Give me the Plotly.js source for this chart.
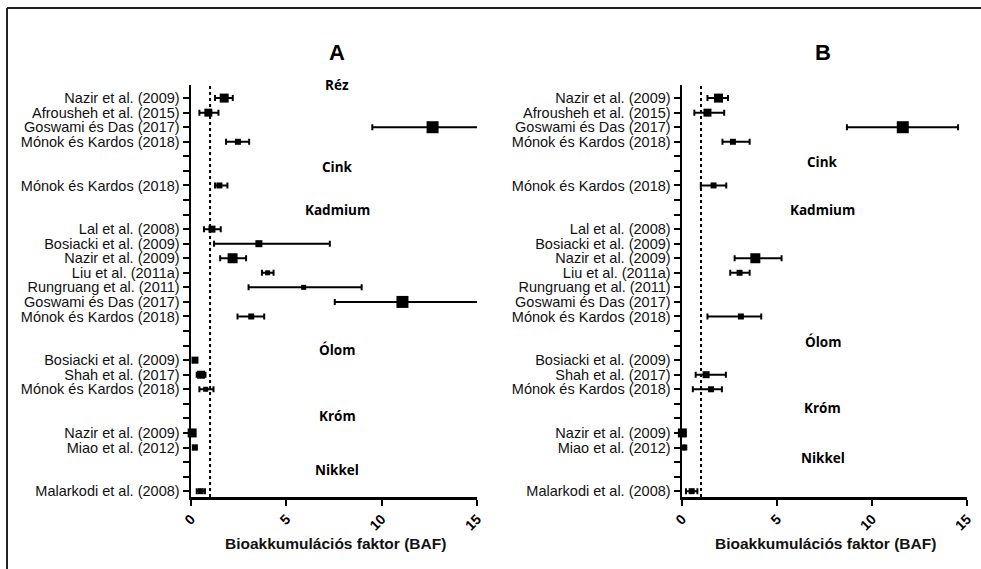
<!DOCTYPE html>
<html>
<head>
<meta charset="utf-8">
<script src="https://cdn.plot.ly/plotly-3.0.1.min.js"></script>
<style>
  html, body { margin: 0; padding: 0; background: #fff; }
  #chart { width: 981px; height: 569px; }
</style>
</head>
<body>
<div id="chart"></div>
<script>
// ---- Data ----
const studyLabels = [
  'Nazir et al. (2009)', 'Afrousheh et al. (2015)', 'Goswami és Das (2017)', 'Mónok és Kardos (2018)',
  '', '',
  'Mónok és Kardos (2018)',
  '', '',
  'Lal et al. (2008)', 'Bosiacki et al. (2009)', 'Nazir et al. (2009)', 'Liu et al. (2011a)',
  'Rungruang et al. (2011)', 'Goswami és Das (2017)', 'Mónok és Kardos (2018)',
  '', '',
  'Bosiacki et al. (2009)', 'Shah et al. (2017)', 'Mónok és Kardos (2018)',
  '', '',
  'Nazir et al. (2009)', 'Miao et al. (2012)',
  '', '',
  'Malarkodi et al. (2008)'
];
const groupNames = ['Réz', 'Cink', 'Kadmium', 'Ólom', 'Króm', 'Nikkel'];
const xTickVals = [0, 5, 10, 15];
const xTitle = 'Bioakkumulációs faktor (BAF)';

// Panel A
const bafA   = [1.74, 0.91, 12.67, 2.46, null, null, 1.49, null, null, 1.10, 3.56, 2.18, 4.02, 5.91, 11.09, 3.16, null, null, 0.21, 0.53, 0.77, null, null, 0.06, 0.20, null, null, 0.51];
const lowA   = [1.26, 0.44, 9.51, 1.84, null, null, 1.26, null, null, 0.68, 1.21, 1.53, 3.72, 3.02, 7.54, 2.44, null, null, 0.12, 0.30, 0.44, null, null, 0.02, 0.12, null, null, 0.30];
const highA  = [2.19, 1.44, 15.83, 3.05, null, null, 1.91, null, null, 1.56, 7.28, 2.89, 4.33, 8.95, 15.60, 3.84, null, null, 0.30, 0.76, 1.18, null, null, 0.10, 0.28, null, null, 0.73];
const weightA = [9, 8, 12, 6, null, null, 6, null, null, 7, 7, 10, 5, 5, 12, 6, null, null, 7, 8, 5, null, null, 9, 6, null, null, 6];

// Panel B
const bafB   = [1.92, 1.34, 11.62, 2.68, null, null, 1.66, null, null, null, null, 3.86, 3.03, null, null, 3.10, null, null, null, 1.27, 1.53, null, null, 0.02, 0.12, null, null, 0.51];
const lowB   = [1.34, 0.65, 8.68, 2.13, null, null, 0.99, null, null, null, null, 2.77, 2.54, null, null, 1.34, null, null, null, 0.72, 0.57, null, null, 0.02, 0.12, null, null, 0.21];
const highB  = [2.42, 2.22, 14.53, 3.56, null, null, 2.33, null, null, null, null, 5.24, 3.56, null, null, 4.17, null, null, null, 2.31, 2.10, null, null, 0.02, 0.12, null, null, 0.81];
const weightB = [9, 8, 12, 6, null, null, 6, null, null, null, null, 10, 6, null, null, 6, null, null, null, 7, 6, null, null, 9, 6, null, null, 6];

// ---- Build traces ----
const rows = studyLabels.map((_, i) => i);
function errPlus(v, hi) { return v.map((x, i) => (x == null ? 0 : hi[i] - x)); }
function errMinus(v, lo) { return v.map((x, i) => (x == null ? 0 : x - lo[i])); }

function panelTraces(vals, lo, hi, sz, xa, ya) {
  return [
    { // error bars (clipped at the plot edge)
      type: 'scatter', mode: 'markers', x: vals, y: rows, xaxis: xa, yaxis: ya,
      marker: { size: 1, opacity: 0 }, cliponaxis: true, hoverinfo: 'skip', showlegend: false,
      error_x: { type: 'data', symmetric: false, array: errPlus(vals, hi), arrayminus: errMinus(vals, lo),
                 color: '#000', thickness: 2, width: 3 }
    },
    { // square markers
      type: 'scatter', mode: 'markers', x: vals, y: rows, xaxis: xa, yaxis: ya,
      marker: { symbol: 'square', color: '#000', opacity: 1, size: sz.map(s => s == null ? 0 : s),
                line: { width: 0 } },
      cliponaxis: false, showlegend: false
    }
  ];
}

const data = [].concat(
  panelTraces(bafA, lowA, highA, weightA, 'x', 'y'),
  panelTraces(bafB, lowB, highB, weightB, 'x2', 'y2')
);

const W = 981, H = 569;
const px = v => v / W, py = v => 1 - v / H;

const font = 'Arial, "Liberation Sans", sans-serif';
const grpFont = '"Open Sans", "Noto Sans", sans-serif';

function xAxis(dom, anchor) {
  return {
    domain: dom, anchor: anchor, range: [0, 15], tickvals: xTickVals, ticktext: xTickVals.map(String),
    showgrid: false, zeroline: false, showline: true, linecolor: '#000', linewidth: 2.5,
    ticks: 'outside', ticklen: 6, tickwidth: 2, tickcolor: '#000', tickangle: -45,
    tickfont: { family: font, size: 14, color: '#000', weight: 'bold' },
    fixedrange: true
  };
}
function yAxis(anchor) {
  return {
    domain: [py(497), py(85)], anchor: anchor, range: [27.4, -0.9], tickvals: rows, ticktext: studyLabels,
    showgrid: false, zeroline: false, showline: true, linecolor: '#000', linewidth: 2.5,
    ticks: 'outside', ticklen: 6, tickwidth: 2, tickcolor: '#000',
    tickfont: { family: font, size: 14.5, color: '#111' }, fixedrange: true
  };
}

const grpRowsA = [-0.9, 4.74, 7.69, 17.3, 21.84, 25.55];
const grpRowsB = [-1.03, 4.4, 7.69, 16.76, 21.3, 24.73];

const annotations = [];
groupNames.forEach((g, i) => {
  annotations.push({ xref: 'x', yref: 'y', x: 7.68, y: grpRowsA[i], text: g, showarrow: false,
    xanchor: 'center', yanchor: 'middle',
    font: { family: grpFont, size: 13.5, color: '#000', weight: 'bold' } });
  annotations.push({ xref: 'x2', yref: 'y2', x: 7.42, y: grpRowsB[i], text: g, showarrow: false,
    xanchor: 'center', yanchor: 'middle',
    font: { family: grpFont, size: 13.5, color: '#000', weight: 'bold' } });
});
[['A', 337, 335], ['B', 823, 825]].forEach(([t, xc, xt]) => {
  annotations.push({ xref: 'paper', yref: 'paper', x: px(xc), y: py(52), text: t, showarrow: false,
    xanchor: 'center', yanchor: 'middle',
    font: { family: font, size: 22, color: '#000', weight: 'bold' } });
  annotations.push({ xref: 'paper', yref: 'paper', x: px(xt), y: py(543), text: xTitle, showarrow: false,
    xanchor: 'center', yanchor: 'middle',
    font: { family: font, size: 15.5, color: '#111', weight: 'bold' } });
});

const shapes = [
  { type: 'line', xref: 'x', yref: 'y domain', x0: 1, x1: 1, y0: 0, y1: 1, line: { color: '#000', width: 2, dash: 'dot' } },
  { type: 'line', xref: 'x2', yref: 'y2 domain', x0: 1, x1: 1, y0: 0, y1: 1, line: { color: '#000', width: 2, dash: 'dot' } },
  { type: 'line', xref: 'paper', yref: 'paper', x0: px(7), x1: px(7), y0: py(8), y1: 0, line: { color: '#222', width: 2 } },
  { type: 'line', xref: 'paper', yref: 'paper', x0: px(7), x1: 1, y0: py(8), y1: py(8), line: { color: '#222', width: 2 } }
];

const layout = {
  width: W, height: H, margin: { l: 0, r: 0, t: 0, b: 0 },
  paper_bgcolor: '#fff', plot_bgcolor: '#fff', showlegend: false,
  xaxis: xAxis([px(191), px(477)], 'y'),
  yaxis: yAxis('x'),
  xaxis2: xAxis([px(682), px(967)], 'y2'),
  yaxis2: yAxis('x2'),
  annotations: annotations, shapes: shapes
};

Plotly.newPlot('chart', data, layout, { displayModeBar: false, staticPlot: true });
</script>
</body>
</html>
